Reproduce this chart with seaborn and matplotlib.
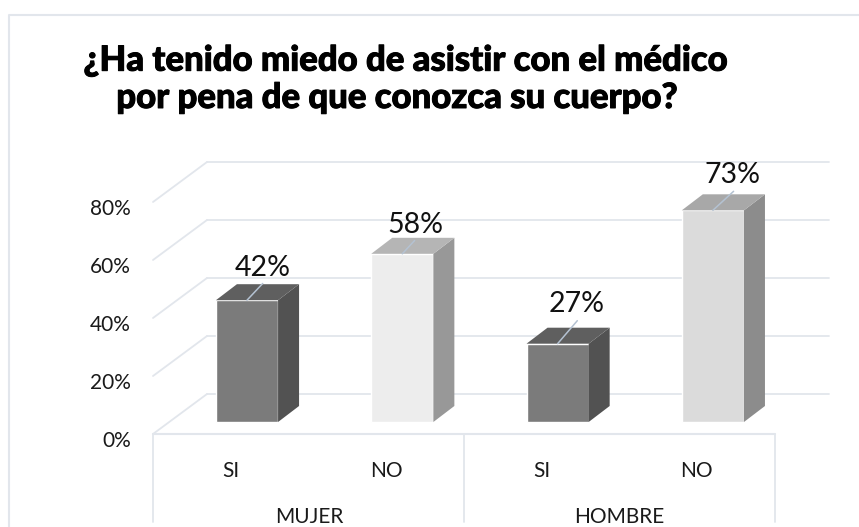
import seaborn as sns
import matplotlib.pyplot as plt
import matplotlib.patheffects as pe
import pandas as pd
from matplotlib.patches import Polygon

# datos del grafico
grupos = ["MUJER", "MUJER", "HOMBRE", "HOMBRE"]
respuestas = ["SI", "NO", "SI", "NO"]
valores = [42, 58, 27, 73]
ticks_y = [0, 20, 40, 60, 80]
titulo_1 = "¿Ha tenido miedo de asistir con el médico"
titulo_2 = "por pena de que conozca su cuerpo?"

color_frente = ["#7b7b7b", "#ededed", "#7b7b7b", "#dbdbdb"]
color_lado = ["#525252", "#989898", "#525252", "#8c8c8c"]
color_tapa = ["#5f5f5f", "#b5b5b5", "#5f5f5f", "#a8a8a8"]
color_linea = "#e2e6ec"
color_guia = "#b4c2d2"

# ajuste a mano de cada etiqueta (px respecto al centro de la tapa)
offset_label = [(15.7, -32.7), (13.2, -28.8), (19, -39.7), (19.5, -35)]
offset_guia = [(15.7, -16.7), (12.3, -13.3), (19.7, -23), (20.7, -19)]

W, H = 859, 527
PX_X = 155.3   # px por categoria
PX_Y = 2.9     # px por 1%
X0, Y0 = 247, 422   # pixel de la primera barra / base


def dx(px):
    return px / PX_X


def dy(px):
    return px / PX_Y


def xd(px):
    return (px - X0) / PX_X


def yd(py):
    return (Y0 - py) / PX_Y


sns.set_theme(style="white")
plt.rcParams['font.family'] = ['Lato', 'DejaVu Sans']

df = pd.DataFrame({
    "cat": [g + " " + r for g, r in zip(grupos, respuestas)],
    "valor": valores,
})

fig = plt.figure(figsize=(W / 100, H / 100), dpi=100)
ax = fig.add_axes([0, 0, 1, 1])

sns.barplot(data=df, x="cat", y="valor", hue="cat", palette=color_frente,
            width=0.4, saturation=1, legend=False, ax=ax, zorder=3)

ax.set_xlim(xd(0), xd(W))
ax.set_ylim(yd(H), yd(0))
ax.axis("off")

# paredes del fondo
prof_x, prof_y = dx(54), dy(40)
pared_izq = xd(153)
pared_der = xd(829)
suelo = yd(434)
for t in ticks_y:
    ax.plot([pared_izq, pared_izq + prof_x], [suelo + t, suelo + t + prof_y],
            color=color_linea, lw=1.3, zorder=1)
    ax.plot([pared_izq + prof_x, pared_der], [suelo + t + prof_y, suelo + t + prof_y],
            color=color_linea, lw=1.3, zorder=1)
    ax.text(xd(131), yd(441) + t, f"{t}%", ha="right", va="center",
            fontsize=15, color="#1a1a1a")

# caja del eje de categorias
ax.plot([xd(153), xd(775)], [suelo, suelo], color=color_linea, lw=1.5, zorder=1)
for px in [153, 464, 775]:
    ax.plot([xd(px), xd(px)], [suelo, yd(522)], color=color_linea, lw=1.3, zorder=1)

# borde del grafico
ax.plot([xd(9.5), xd(9.5), xd(W)], [yd(H), yd(14.5), yd(14.5)], color=color_linea, lw=1.5)

# caras 3D de las barras
bar_x = dx(21)
bar_y = dy(16)
for i, (barra, v) in enumerate(zip(ax.patches, valores)):
    x0 = barra.get_x()
    x1 = x0 + barra.get_width()
    ax.add_patch(Polygon([(x1, 0), (x1 + bar_x, bar_y), (x1 + bar_x, v + bar_y), (x1, v)],
                         facecolor=color_lado[i], edgecolor="none", zorder=3))
    ax.add_patch(Polygon([(x0, v), (x0 + bar_x, v + bar_y), (x1 + bar_x, v + bar_y), (x1, v)],
                         facecolor=color_tapa[i], edgecolor="none", zorder=3))
    gx, gy = offset_guia[i]
    ax.annotate("", xy=(i, v), xytext=(gx * 0.72, -gy * 0.72), textcoords="offset points",
                arrowprops=dict(arrowstyle="-", color=color_guia, lw=1.1, shrinkA=0, shrinkB=0),
                zorder=4)
    lx, ly = offset_label[i]
    ax.annotate(f"{v}%", xy=(i, v), xytext=(lx * 0.72, -ly * 0.72), textcoords="offset points",
                ha="center", va="center", fontsize=20.5, color="#111111", zorder=5)
    # etiqueta SI / NO
    ax.text(i + dx(-16), yd(471), respuestas[i], ha="center", va="center",
            fontsize=15, color="#1a1a1a")

# grupos
ax.text(xd(309), yd(517), grupos[0], ha="center", va="center", fontsize=15, color="#1a1a1a")
ax.text(xd(619), yd(517), grupos[2], ha="center", va="center", fontsize=15, color="#1a1a1a")

trazo = [pe.withStroke(linewidth=0.7, foreground="#000000")]
ax.text(xd(405.5), yd(70.7), titulo_1, ha="center", va="baseline", fontsize=25,
        fontweight=900, color="#000000", path_effects=trazo)
ax.text(xd(397), yd(108), titulo_2, ha="center", va="baseline", fontsize=25,
        fontweight=900, color="#000000", path_effects=trazo)

plt.savefig("out.png", dpi=100)
plt.close()
